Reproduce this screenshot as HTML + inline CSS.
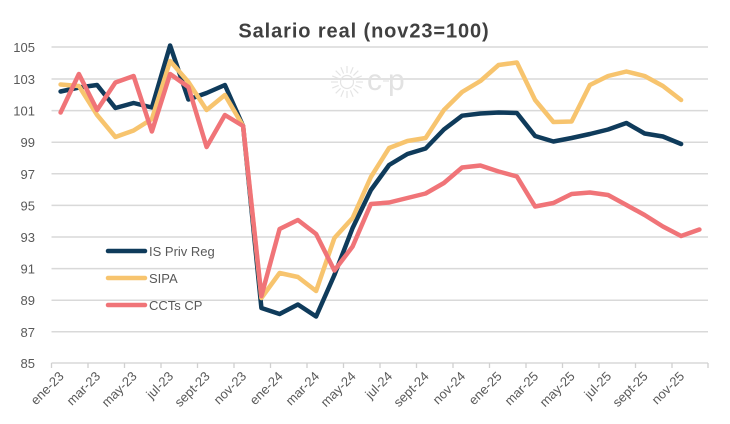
<!DOCTYPE html>
<html>
<head>
<meta charset="utf-8">
<style>
  html,body{margin:0;padding:0;background:#fff;}
  svg{display:block;}
  text{font-family:"Liberation Sans", Arial, sans-serif;}
</style>
</head>
<body>
<svg width="730" height="424" viewBox="0 0 730 424" xmlns="http://www.w3.org/2000/svg">
  <rect width="730" height="424" fill="#ffffff"/>
  <!-- Title -->
  <text x="364" y="37.5" text-anchor="middle" font-size="20" font-weight="bold" fill="#404040" letter-spacing="0.9">Salario real (nov23=100)</text>

  <!-- gridlines -->
  <g stroke="#d9d9d9" stroke-width="1.5">
    <line x1="51.5" y1="47" x2="708" y2="47"/>
    <line x1="51.5" y1="79" x2="708" y2="79"/>
    <line x1="51.5" y1="110.6" x2="708" y2="110.6"/>
    <line x1="51.5" y1="142.2" x2="708" y2="142.2"/>
    <line x1="51.5" y1="173.8" x2="708" y2="173.8"/>
    <line x1="51.5" y1="205.4" x2="708" y2="205.4"/>
    <line x1="51.5" y1="237" x2="708" y2="237"/>
    <line x1="51.5" y1="268.6" x2="708" y2="268.6"/>
    <line x1="51.5" y1="300.2" x2="708" y2="300.2"/>
    <line x1="51.5" y1="331.8" x2="708" y2="331.8"/>
    <line x1="51.5" y1="363" x2="708" y2="363"/>
  </g>
  <!-- x ticks -->
  <g stroke="#d0d0d0" stroke-width="1.3">
    <line x1="51.5" y1="363" x2="51.5" y2="368"/>
    <line x1="88" y1="363" x2="88" y2="368"/>
    <line x1="124.5" y1="363" x2="124.5" y2="368"/>
    <line x1="161" y1="363" x2="161" y2="368"/>
    <line x1="197.5" y1="363" x2="197.5" y2="368"/>
    <line x1="234" y1="363" x2="234" y2="368"/>
    <line x1="270.5" y1="363" x2="270.5" y2="368"/>
    <line x1="307" y1="363" x2="307" y2="368"/>
    <line x1="343.5" y1="363" x2="343.5" y2="368"/>
    <line x1="380" y1="363" x2="380" y2="368"/>
    <line x1="416.5" y1="363" x2="416.5" y2="368"/>
    <line x1="453" y1="363" x2="453" y2="368"/>
    <line x1="489.5" y1="363" x2="489.5" y2="368"/>
    <line x1="526" y1="363" x2="526" y2="368"/>
    <line x1="562.5" y1="363" x2="562.5" y2="368"/>
    <line x1="599" y1="363" x2="599" y2="368"/>
    <line x1="635.5" y1="363" x2="635.5" y2="368"/>
    <line x1="672" y1="363" x2="672" y2="368"/>
    <line x1="708" y1="363" x2="708" y2="368"/>
  </g>

  <!-- y labels -->
  <g font-size="13" fill="#595959" text-anchor="end">
    <text x="35" y="52">105</text>
    <text x="35" y="84">103</text>
    <text x="35" y="115.6">101</text>
    <text x="35" y="147.2">99</text>
    <text x="35" y="178.8">97</text>
    <text x="35" y="210.4">95</text>
    <text x="35" y="242">93</text>
    <text x="35" y="273.6">91</text>
    <text x="35" y="305.2">89</text>
    <text x="35" y="336.8">87</text>
    <text x="35" y="368">85</text>
  </g>

  <!-- x labels -->
  <g font-size="13" fill="#595959" text-anchor="end">
    <text transform="translate(64.6,377) rotate(-45)">ene-23</text>
    <text transform="translate(101.1,377) rotate(-45)">mar-23</text>
    <text transform="translate(137.6,377) rotate(-45)">may-23</text>
    <text transform="translate(174.1,377) rotate(-45)">jul-23</text>
    <text transform="translate(210.6,377) rotate(-45)">sept-23</text>
    <text transform="translate(247.1,377) rotate(-45)">nov-23</text>
    <text transform="translate(283.6,377) rotate(-45)">ene-24</text>
    <text transform="translate(320.1,377) rotate(-45)">mar-24</text>
    <text transform="translate(356.6,377) rotate(-45)">may-24</text>
    <text transform="translate(393.1,377) rotate(-45)">jul-24</text>
    <text transform="translate(429.6,377) rotate(-45)">sept-24</text>
    <text transform="translate(466.1,377) rotate(-45)">nov-24</text>
    <text transform="translate(502.6,377) rotate(-45)">ene-25</text>
    <text transform="translate(539.1,377) rotate(-45)">mar-25</text>
    <text transform="translate(575.6,377) rotate(-45)">may-25</text>
    <text transform="translate(612.1,377) rotate(-45)">jul-25</text>
    <text transform="translate(648.6,377) rotate(-45)">sept-25</text>
    <text transform="translate(685.1,377) rotate(-45)">nov-25</text>
  </g>

  <!-- watermark logo -->
  <g stroke="#e4e4e4" stroke-width="1.2" fill="none">
    <circle cx="347" cy="82" r="6.5"/>
    <g id="rays">
      <line x1="347" y1="73" x2="347" y2="66"/>
      <line x1="347" y1="91" x2="347" y2="98"/>
      <line x1="338" y1="82" x2="331" y2="82"/>
      <line x1="356" y1="82" x2="363" y2="82"/>
      <line x1="353.4" y1="75.6" x2="358.3" y2="70.7"/>
      <line x1="340.6" y1="88.4" x2="335.7" y2="93.3"/>
      <line x1="340.6" y1="75.6" x2="335.7" y2="70.7"/>
      <line x1="353.4" y1="88.4" x2="358.3" y2="93.3"/>
      <line x1="350.4" y1="73.7" x2="353.1" y2="67.2"/>
      <line x1="343.6" y1="90.3" x2="340.9" y2="96.8"/>
      <line x1="343.6" y1="73.7" x2="340.9" y2="67.2"/>
      <line x1="350.4" y1="90.3" x2="353.1" y2="96.8"/>
      <line x1="355.3" y1="78.6" x2="361.8" y2="75.9"/>
      <line x1="338.7" y1="85.4" x2="332.2" y2="88.1"/>
      <line x1="338.7" y1="78.6" x2="332.2" y2="75.9"/>
      <line x1="355.3" y1="85.4" x2="361.8" y2="88.1"/>
    </g>
    <line x1="383" y1="81" x2="389" y2="81"/>
  </g>
  <text x="367" y="90" font-size="30" fill="#e2e2e2">c</text>
  <text x="388" y="90" font-size="30" fill="#e2e2e2">p</text>

  <!-- series -->
  <g fill="none" stroke-width="4.5" stroke-linejoin="round" stroke-linecap="round">
    <polyline stroke="#0f3b5b" points="60.6,91.5 78.9,87.5 97.1,85 115.4,108 133.6,103 151.9,107.5 170.1,45.5 188.4,99.5 206.6,93 224.9,85 243.1,126 261.4,308 279.6,314 297.9,304.5 316.1,316.5 334.4,275 352.6,228 370.9,190 389.1,165 407.4,154 425.6,148.5 443.9,129.5 462.1,115.7 480.4,113.5 498.6,112.5 516.9,113 535.1,136 553.4,141.5 571.6,138 589.9,134 608.1,129.5 626.4,123 644.6,133.5 662.9,136.5 681.1,144"/>
    <polyline stroke="#f7c46e" points="60.6,84.5 78.9,86 97.1,115 115.4,137 133.6,130.5 151.9,119 170.1,61 188.4,82 206.6,110 224.9,95 243.1,126 261.4,298 279.6,273 297.9,277 316.1,291 334.4,238 352.6,218 370.9,177 389.1,148 407.4,141 425.6,138 443.9,110 462.1,92 480.4,81 498.6,65 516.9,62.5 535.1,100 553.4,122 571.6,121.5 589.9,85 608.1,76 626.4,71.5 644.6,76 662.9,86 681.1,100"/>
    <polyline stroke="#f07478" points="60.6,112.5 78.9,74 97.1,110 115.4,82.5 133.6,76 151.9,131.5 170.1,74 188.4,87 206.6,147 224.9,115 243.1,126 261.4,296 279.6,229 297.9,220 316.1,234 334.4,270.5 352.6,246.5 370.9,204 389.1,202.5 407.4,198 425.6,193.5 443.9,183 462.1,167.5 480.4,165.5 498.6,171.5 516.9,176.5 535.1,206.5 553.4,203 571.6,194 589.9,192.5 608.1,195 626.4,205 644.6,215 662.9,226.5 681.1,236 699.4,229.5"/>
  </g>

  <!-- legend -->
  <g stroke-width="4.5" stroke-linecap="round">
    <line x1="108" y1="251" x2="145" y2="251" stroke="#0f3b5b"/>
    <line x1="108" y1="278" x2="145" y2="278" stroke="#f7c46e"/>
    <line x1="108" y1="305" x2="145" y2="305" stroke="#f07478"/>
  </g>
  <g font-size="13" fill="#595959">
    <text x="149" y="256">IS Priv Reg</text>
    <text x="149" y="283">SIPA</text>
    <text x="149" y="310">CCTs CP</text>
  </g>
</svg>
</body>
</html>
